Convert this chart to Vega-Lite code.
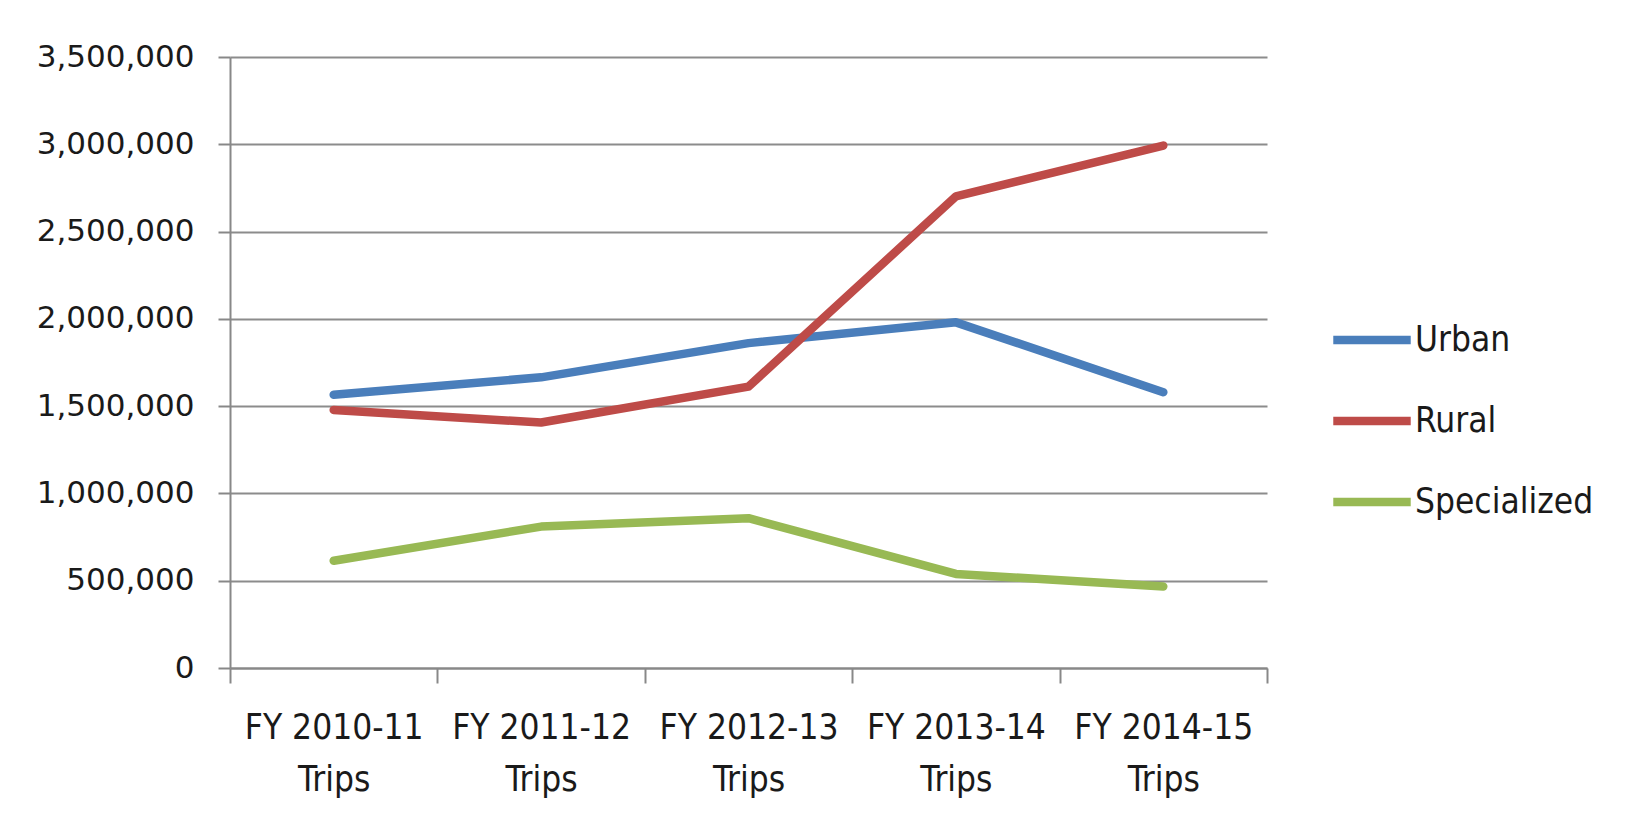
{
  "$schema": "https://vega.github.io/schema/vega-lite/v6.json",
  "autosize": {"type": "none"},
  "width": 1037,
  "height": 611,
  "padding": {"left": 230, "top": 57, "right": 361, "bottom": 162},
  "background": "white",
  "config": {
    "view": {"stroke": null},
    "font": "DejaVu Sans Condensed"
  },
  "data": {
    "values": [
      {"period": "FY 2010-11 Trips", "series": "Urban", "trips": 1565000},
      {"period": "FY 2011-12 Trips", "series": "Urban", "trips": 1665000},
      {"period": "FY 2012-13 Trips", "series": "Urban", "trips": 1861000},
      {"period": "FY 2013-14 Trips", "series": "Urban", "trips": 1980000},
      {"period": "FY 2014-15 Trips", "series": "Urban", "trips": 1580000},
      {"period": "FY 2010-11 Trips", "series": "Rural", "trips": 1478000},
      {"period": "FY 2011-12 Trips", "series": "Rural", "trips": 1406000},
      {"period": "FY 2012-13 Trips", "series": "Rural", "trips": 1612000},
      {"period": "FY 2013-14 Trips", "series": "Rural", "trips": 2701000},
      {"period": "FY 2014-15 Trips", "series": "Rural", "trips": 2993000},
      {"period": "FY 2010-11 Trips", "series": "Specialized", "trips": 614000},
      {"period": "FY 2011-12 Trips", "series": "Specialized", "trips": 810000},
      {"period": "FY 2012-13 Trips", "series": "Specialized", "trips": 858000},
      {"period": "FY 2013-14 Trips", "series": "Specialized", "trips": 539000},
      {"period": "FY 2014-15 Trips", "series": "Specialized", "trips": 467000}
    ]
  },
  "mark": {"type": "line", "strokeWidth": 8.5, "strokeCap": "round", "strokeJoin": "round"},
  "encoding": {
    "x": {
      "field": "period",
      "type": "ordinal",
      "sort": null,
      "bandPosition": 0.5,
      "scale": {"type": "band", "paddingInner": 0, "paddingOuter": 0},
      "axis": {
        "title": null,
        "labelAngle": 0,
        "tickBand": "extent",
        "grid": false,
        "domainColor": "#888888",
        "domainWidth": 2,
        "tickColor": "#888888",
        "tickWidth": 2,
        "tickSize": 15,
        "labelFont": "DejaVu Sans Condensed",
        "labelFontSize": 35,
        "labelColor": "#1a1a1a",
        "labelPadding": 27,
        "labelLineHeight": 52,
        "labelLimit": 0,
        "labelExpr": "datum.value ? [split(datum.value, ' Trips')[0], 'Trips'] : ''"
      }
    },
    "y": {
      "field": "trips",
      "type": "quantitative",
      "scale": {"domain": [0, 3500000], "nice": false},
      "axis": {
        "title": null,
        "values": [0, 500000, 1000000, 1500000, 2000000, 2500000, 3000000, 3500000],
        "format": ",.0f",
        "grid": true,
        "gridColor": "#8c8c8c",
        "gridWidth": 2,
        "domainColor": "#888888",
        "domainWidth": 2,
        "tickColor": "#888888",
        "tickWidth": 2,
        "tickSize": 12,
        "labelFont": "DejaVu Sans",
        "labelFontSize": 31,
        "labelColor": "#1a1a1a",
        "labelPadding": 24,
        "labelLimit": 0
      }
    },
    "color": {
      "field": "series",
      "type": "nominal",
      "sort": ["Urban", "Rural", "Specialized"],
      "scale": {"domain": ["Urban", "Rural", "Specialized"], "range": ["#4A7EBB", "#BE4B48", "#98B954"]},
      "legend": {
        "title": null,
        "orient": "none",
        "legendX": 1099,
        "legendY": 240,
        "symbolType": "stroke",
        "symbolSize": 6000,
        "symbolStrokeWidth": 8.5,
        "labelFont": "DejaVu Sans Condensed",
        "labelFontSize": 35,
        "labelColor": "#1a1a1a",
        "labelOffset": 0,
        "labelLimit": 0,
        "rowPadding": 20,
        "symbolOffset": 0
      }
    }
  }
}
